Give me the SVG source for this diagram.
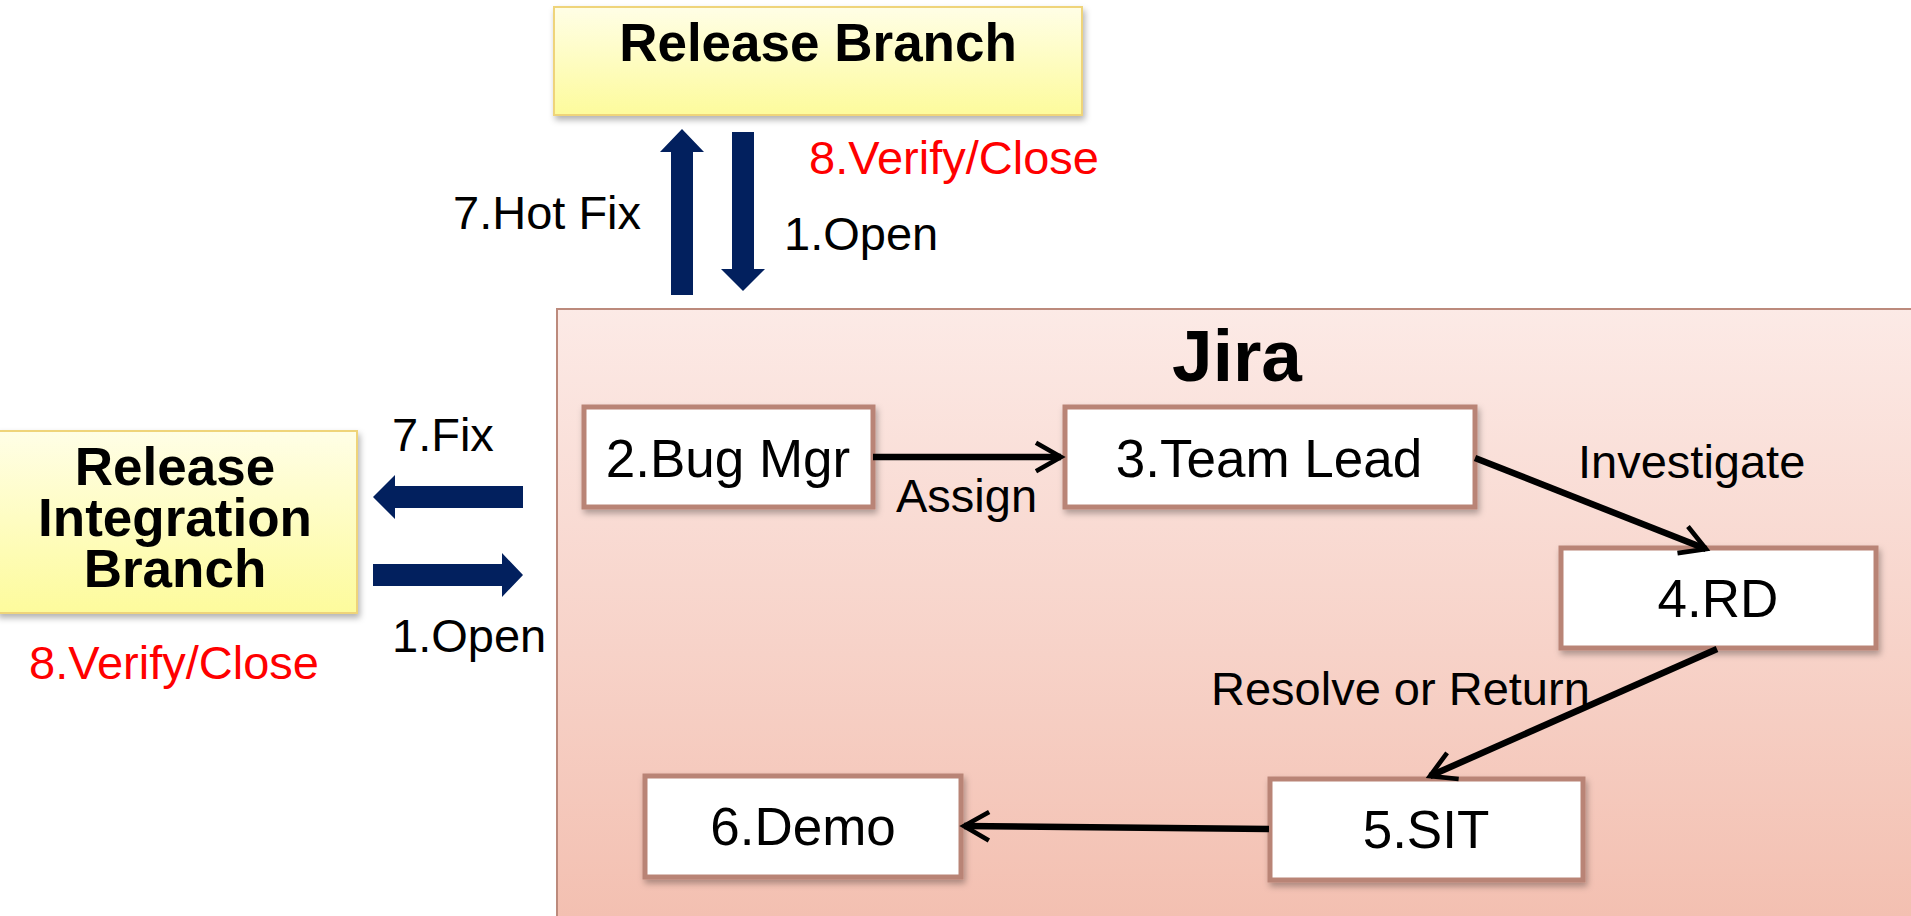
<svg xmlns="http://www.w3.org/2000/svg" width="1911" height="916" viewBox="0 0 1911 916">
<defs>
<linearGradient id="yel" x1="0" y1="0" x2="0" y2="1">
<stop offset="0" stop-color="#fffee6"/>
<stop offset="1" stop-color="#fdfb9c"/>
</linearGradient>
<linearGradient id="pink" x1="0" y1="0" x2="0" y2="1">
<stop offset="0" stop-color="#fceae6"/>
<stop offset="1" stop-color="#f3bfb0"/>
</linearGradient>
<filter id="sh" x="-10%" y="-10%" width="130%" height="140%">
<feDropShadow dx="2" dy="4" stdDeviation="3" flood-color="#000" flood-opacity="0.3"/>
</filter>
<marker id="chev" viewBox="0 0 10 10" markerWidth="5.5" markerHeight="5.5" refX="8.5" refY="5" orient="auto" markerUnits="strokeWidth">
<path d="M1.5,1 L8.5,5 L1.5,9" fill="none" stroke="#000" stroke-width="1.3" stroke-linejoin="miter"/>
</marker>
</defs>
<style>
.t{font-family:"Liberation Sans",Arial,sans-serif;fill:#000}
.b{font-weight:bold}
.red{fill:#ff0000}
.yb{fill:url(#yel);stroke:#efd47a;stroke-width:2}
.nd{fill:#fff;stroke:#b98476;stroke-width:5}
.bl{fill:#02205e}
.cn{fill:none;stroke:#000;stroke-width:6.5;marker-end:url(#chev)}
</style>
<rect width="1911" height="916" fill="#fff"/>

<g id="jira">
<rect x="557" y="309" width="1360" height="620" fill="url(#pink)" stroke="#bc8a7c" stroke-width="2"/>
<text class="t b" x="1237" y="381" font-size="73" text-anchor="middle">Jira</text>
</g>

<g id="release-branch">
<rect class="yb" x="554" y="7" width="528" height="108" filter="url(#sh)"/>
<text class="t b" x="818" y="61" font-size="53" text-anchor="middle">Release Branch</text>
</g>

<g id="release-integration-branch">
<rect class="yb" x="-3" y="431" width="360" height="182" filter="url(#sh)"/>
<text class="t b" x="175" y="485" font-size="53" text-anchor="middle">Release</text>
<text class="t b" x="175" y="536" font-size="53" text-anchor="middle">Integration</text>
<text class="t b" x="175" y="587" font-size="53" text-anchor="middle">Branch</text>
</g>

<g id="n2">
<rect class="nd" x="584" y="407" width="289" height="100" filter="url(#sh)"/>
<text class="t" x="728" y="477" font-size="53" text-anchor="middle">2.Bug Mgr</text>
</g>
<g id="n3">
<rect class="nd" x="1065" y="407" width="410" height="100" filter="url(#sh)"/>
<text class="t" x="1269" y="477" font-size="53" text-anchor="middle">3.Team Lead</text>
</g>
<g id="n4">
<rect class="nd" x="1561" y="548" width="315" height="100" filter="url(#sh)"/>
<text class="t" x="1718" y="617" font-size="53" text-anchor="middle">4.RD</text>
</g>
<g id="n5">
<rect class="nd" x="1270" y="779" width="313" height="101" filter="url(#sh)"/>
<text class="t" x="1426" y="848" font-size="53" text-anchor="middle">5.SIT</text>
</g>
<g id="n6">
<rect class="nd" x="645" y="776" width="316" height="101" filter="url(#sh)"/>
<text class="t" x="803" y="845" font-size="53" text-anchor="middle">6.Demo</text>
</g>

<g id="connectors">
<polygon class="bl" points="671,295 671,152 660,152 682,129 704,152 693,152 693,295"/>
<polygon class="bl" points="732,132 754,132 754,269 765,269 743,291 721,269 732,269"/>
<polygon class="bl" points="523,486 395,486 395,475 373,497 395,519 395,508 523,508"/>
<polygon class="bl" points="373,564 502,564 502,553 523,575 502,597 502,586 373,586"/>
<line class="cn" x1="873" y1="457" x2="1061" y2="457"/>
<line class="cn" x1="1475" y1="458" x2="1706" y2="549"/>
<line class="cn" x1="1717" y1="649" x2="1430" y2="776"/>
<line class="cn" x1="1269" y1="829" x2="964" y2="826"/>
</g>

<g id="labels">
<text class="t" x="453" y="229" font-size="47">7.Hot Fix</text>
<text class="t red" x="809" y="174" font-size="47">8.Verify/Close</text>
<text class="t" x="784" y="250" font-size="47">1.Open</text>
<text class="t" x="392" y="451" font-size="47">7.Fix</text>
<text class="t" x="392" y="652" font-size="47">1.Open</text>
<text class="t red" x="29" y="679" font-size="47">8.Verify/Close</text>
<text class="t" x="896" y="512" font-size="47">Assign</text>
<text class="t" x="1578" y="478" font-size="47">Investigate</text>
<text class="t" x="1211" y="705" font-size="47">Resolve or Return</text>
</g>
</svg>
